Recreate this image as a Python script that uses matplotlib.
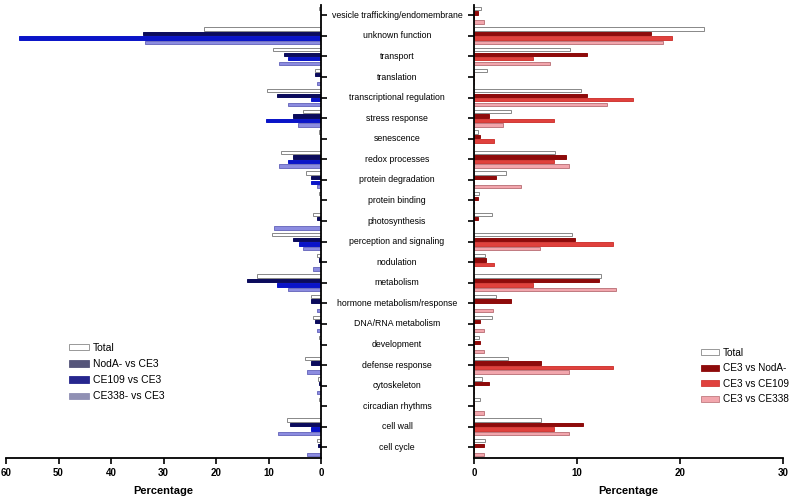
import matplotlib
matplotlib.use('Agg')
import matplotlib.pyplot as plt
from matplotlib.patches import Patch
import matplotlib.transforms as mtransforms
import numpy as np

plt.rcParams['font.family'] = ['Liberation Sans', 'DejaVu Sans']

categories = ['vesicle trafficking/endomembrane', 'unknown function', 'transport',
              'translation', 'transcriptional regulation', 'stress response',
              'senescence', 'redox processes', 'protein degradation', 'protein binding',
              'photosynthesis', 'perception and signaling', 'nodulation', 'metabolism',
              'hormone metabolism/response', 'DNA/RNA metabolism', 'development',
              'defense response', 'cytoskeleton', 'circadian rhythms', 'cell wall',
              'cell cycle']

# left panel (blue)
left_total = [0.4, 22.3, 9.2, 1.1, 10.3, 3.4, 0.3, 7.6, 2.9, 0.3, 1.6, 9.4,
              0.8, 12.1, 2.0, 1.45, 0.3, 3.0, 0.6, 0.3, 6.4, 0.8]
left_noda = [0.0, 33.9, 7.1, 1.1, 8.4, 5.4, 0.0, 5.4, 2.0, 0.0, 0.7, 5.4,
             0.3, 14.1, 2.0, 1.1, 0.2, 2.0, 0.3, 0.0, 5.9, 0.6]
left_ce109 = [0.0, 57.5, 6.3, 0.0, 2.0, 10.5, 0.0, 6.3, 2.0, 0.0, 0.0, 4.1,
              0.0, 8.3, 0.0, 0.0, 0.0, 0.0, 0.0, 0.0, 2.0, 0.0]
left_ce338 = [0.0, 33.6, 8.0, 0.7, 6.2, 4.3, 0.0, 8.0, 0.7, 0.0, 9.0, 3.4,
              1.6, 6.2, 0.7, 0.7, 0.0, 2.6, 0.7, 0.0, 8.1, 2.6]

# right panel (red)
right_total = [0.7, 22.3, 9.3, 1.3, 10.4, 3.6, 0.4, 7.9, 3.1, 0.45, 1.75, 9.5,
               1.05, 12.3, 2.1, 1.75, 0.45, 3.3, 0.8, 0.6, 6.5, 1.1]
right_noda = [0.35, 17.15, 11.0, 0.0, 11.0, 1.5, 0.6, 8.9, 2.1, 0.35, 0.35, 9.8,
              1.2, 12.1, 3.55, 0.6, 0.6, 6.5, 1.5, 0.0, 10.6, 0.95]
right_ce109 = [0.0, 19.25, 5.75, 0.0, 15.4, 7.8, 1.95, 7.8, 0.0, 0.0, 0.0, 13.5,
               1.95, 5.75, 0.0, 0.0, 0.0, 13.5, 0.0, 0.0, 7.8, 0.0]
right_ce338 = [0.95, 18.4, 7.4, 0.0, 12.9, 2.8, 0.0, 9.2, 4.6, 0.0, 0.0, 6.4,
               0.0, 13.8, 1.85, 0.95, 0.95, 9.2, 0.0, 0.95, 9.2, 0.95]

left_labels = ['Total', 'NodA- vs CE3', 'CE109 vs CE3', 'CE338- vs CE3']
right_labels = ['Total', 'CE3 vs NodA-', 'CE3 vs CE109', 'CE3 vs CE338']

left_colors = ['white', '#0b0b5c', '#0a14c8', '#8c8ce0']
left_edges = ['#888888', '#0b0b5c', '#0a14c8', '#6f6fc0']
left_legend_colors = ['white', '#55557a', '#26268e', '#9090b4']
right_colors = ['white', '#8e0b0b', '#e0413d', '#f2a6ad']
right_edges = ['#888888', '#8e0b0b', '#d03a36', '#c07a80']

y = np.arange(len(categories))
offsets = [-0.33, -0.11, 0.11, 0.33]
h = 0.16

fig = plt.figure(figsize=(7.94, 4.97), dpi=100)
axl = fig.add_axes([0.0076, 0.079, 0.3967, 0.911])
axr = fig.add_axes([0.597, 0.079, 0.389, 0.911])

for ax, series, cols, edges, labels in [
        (axl, [left_total, left_noda, left_ce109, left_ce338], left_colors, left_edges, left_labels),
        (axr, [right_total, right_noda, right_ce109, right_ce338], right_colors, right_edges, right_labels)]:
    ax.patch.set_visible(False)
    for vals, off, c, e, lab in zip(series, offsets, cols, edges, labels):
        ax.barh(y + off, vals, height=h, color=c, edgecolor=e, linewidth=0.7, label=lab)
    ax.set_ylim(len(categories) - 0.5, -0.5)
    ax.set_yticks(y)
    ax.set_yticklabels([])
    ax.spines['top'].set_visible(False)
    ax.set_xlabel('Percentage', fontsize=8, fontweight='bold', labelpad=6)
    ax.tick_params(axis='x', labelsize=7, width=1.2, length=4)
    ax.tick_params(axis='y', width=1.2, length=4, direction='out')
    for s in ax.spines.values():
        s.set_linewidth(1.3)

axl.set_xlim(60, 0)
axl.set_xticks([60, 50, 40, 30, 20, 10, 0])
axl.spines['left'].set_visible(False)
axl.yaxis.tick_right()

axr.set_xlim(0, 30)
axr.set_xticks([0, 10, 20, 30])
axr.spines['right'].set_visible(False)

for lbl in axl.get_xticklabels() + axr.get_xticklabels():
    lbl.set_fontweight('bold')

# category labels in the middle
trans = mtransforms.blended_transform_factory(fig.transFigure, axl.transData)
for i, cat in enumerate(categories):
    fig.text(0.5, i, cat, transform=trans, ha='center', va='center', fontsize=6.3)

lh = [Patch(facecolor=c, edgecolor='#888888' if c == 'white' else c, linewidth=0.6)
      for c in left_legend_colors]
axl.legend(lh, left_labels, loc='upper left', bbox_to_anchor=(0.2, 0.254), frameon=False,
           fontsize=7.5, handlelength=1.9, handleheight=0.6, labelspacing=0.6,
           borderaxespad=0, borderpad=0, handletextpad=0.4)
rh = [Patch(facecolor=c, edgecolor=e, linewidth=0.6) for c, e in zip(right_colors, right_edges)]
axr.legend(rh, right_labels, loc='upper left', bbox_to_anchor=(0.735, 0.243), frameon=False,
           fontsize=7.2, handlelength=1.8, handleheight=0.6, labelspacing=0.55,
           borderaxespad=0, borderpad=0, handletextpad=0.35)

fig.savefig('out.png', dpi=100)
